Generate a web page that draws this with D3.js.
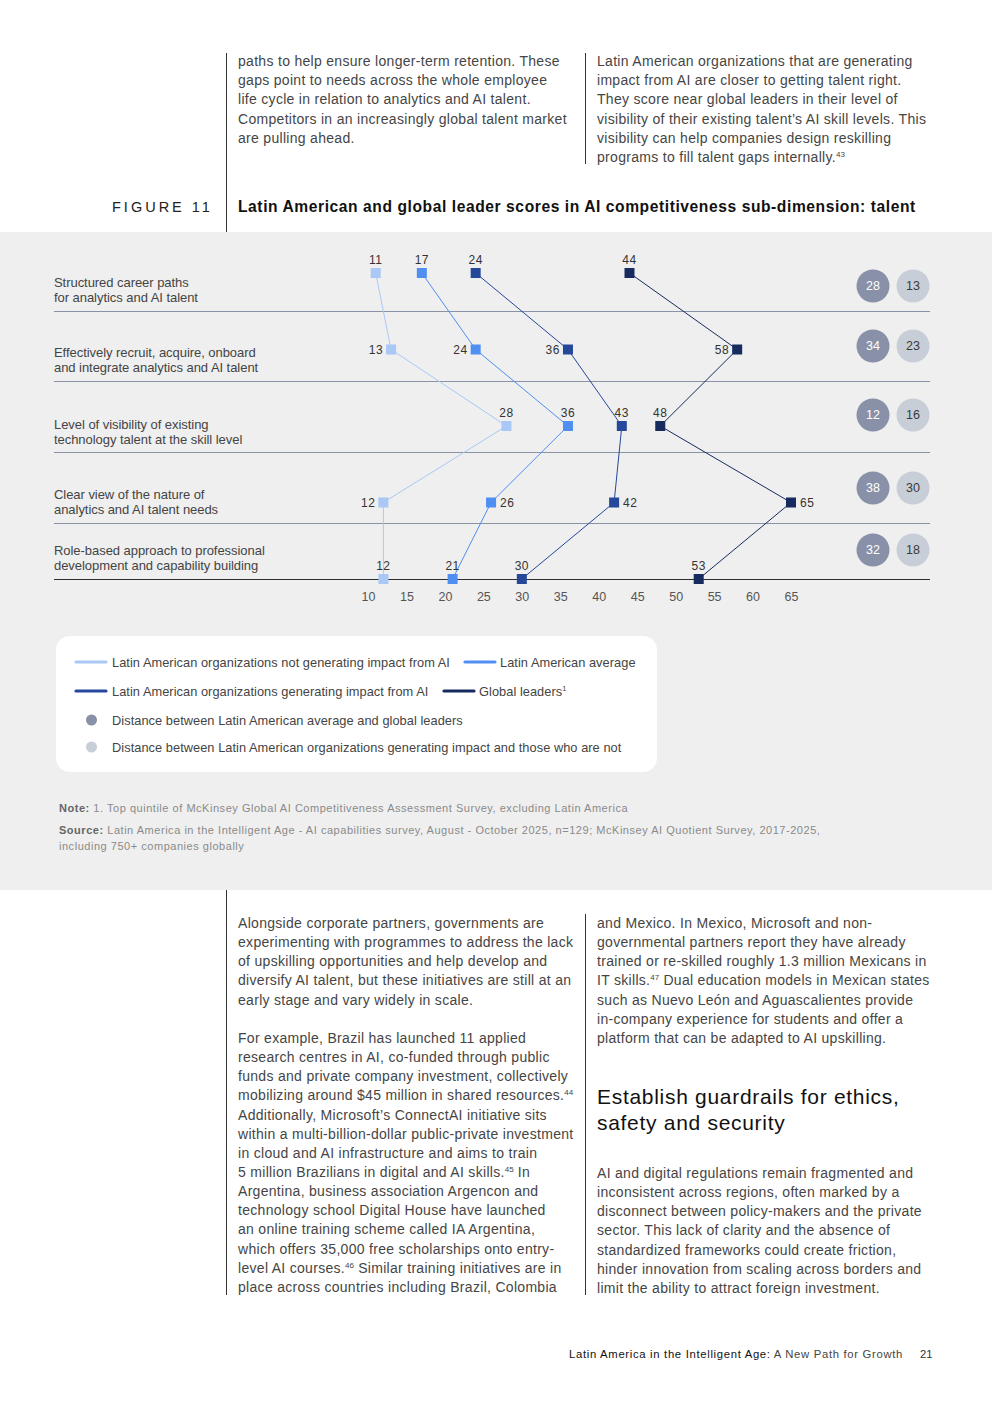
<!DOCTYPE html>
<html>
<head>
<meta charset="utf-8">
<script src="https://cdn.jsdelivr.net/npm/d3@7"></script>
<style>
  html, body { margin: 0; padding: 0; background: #fff; }
  svg { display: block; font-family: "Liberation Sans", Arial, Helvetica, sans-serif; }
</style>
</head>
<body>
<div id="chart"></div>
<script>
// ---------------- DATA ----------------
const categories = [
  ["Structured career paths", "for analytics and AI talent"],
  ["Effectively recruit, acquire, onboard", "and integrate analytics and AI talent"],
  ["Level of visibility of existing", "technology talent at the skill level"],
  ["Clear view of the nature of", "analytics and AI talent needs"],
  ["Role-based approach to professional", "development and capability building"]
];
const notGenerating = [11, 13, 28, 12, 12];
const latamAverage  = [17, 24, 36, 26, 21];
const generating    = [24, 36, 43, 42, 30];
const globalLeaders = [44, 58, 48, 65, 53];
const gapAvgGlobal  = [28, 34, 12, 38, 32];
const gapGenNot     = [13, 23, 16, 30, 18];
const xTicks = [10, 15, 20, 25, 30, 35, 40, 45, 50, 55, 60, 65];

const seriesNames = [
  "Latin American organizations not generating impact from AI",
  "Latin American average",
  "Latin American organizations generating impact from AI",
  "Global leaders"
];
const gapNames = [
  "Distance between Latin American average and global leaders",
  "Distance between Latin American organizations generating impact and those who are not"
];

// ---------------- STYLE / LAYOUT ----------------
const seriesColors = ["#a9c8f6", "#4f8ff2", "#25489b", "#172b5f"];
const gapColors = ["#8891a7", "#c7ced7"];
const gapTextColors = ["#ffffff", "#3a3a3a"];
const labelPlacement = [
  ["above", "above", "above", "above"],
  ["left", "left", "left", "left"],
  ["above", "above", "above", "above"],
  ["left", "right", "right", "right"],
  ["above", "above", "above", "above"]
];
const rowLabelY = [289.5, 359.5, 431.5, 501.5, 557.5];
const bubbleY   = [286, 346, 415, 488, 550];
const separatorY = [311, 381, 452, 523];

const W = 992, H = 1403;
const svg = d3.select("#chart").append("svg").attr("width", W).attr("height", H);

// gray band
svg.append("rect").attr("x", 0).attr("y", 232).attr("width", W).attr("height", 658).attr("fill", "#efefef");

const bodyColor = "#454545";
function textBlock(x, lines, y0, lh, opts = {}) {
  lines.forEach((ln, i) => {
    if (ln === null) return;
    const t = svg.append("text").attr("x", x).attr("y", y0 + i * lh)
      .attr("font-size", opts.size || 14).attr("letter-spacing", opts.ls != null ? opts.ls : 0.3)
      .attr("fill", opts.color || bodyColor);
    let pending = 0;
    ln.split(/(\^\d+)/).forEach(part => {
      if (part.startsWith("^")) {
        t.append("tspan").attr("font-size", 8).attr("dy", -5).attr("letter-spacing", 0).text(part.slice(1));
        pending = 5;
      } else if (part.length) {
        const ts = t.append("tspan").text(part);
        if (pending) { ts.attr("dy", pending); pending = 0; }
      }
    });
  });
}

// ---------------- top body text ----------------
svg.append("line").attr("x1", 226.5).attr("x2", 226.5).attr("y1", 53).attr("y2", 232).attr("stroke", "#333");
svg.append("line").attr("x1", 585.5).attr("x2", 585.5).attr("y1", 53).attr("y2", 164).attr("stroke", "#333");
textBlock(238, [
  "paths to help ensure longer-term retention. These",
  "gaps point to needs across the whole employee",
  "life cycle in relation to analytics and AI talent.",
  "Competitors in an increasingly global talent market",
  "are pulling ahead."
], 66, 19.2);
textBlock(597, [
  "Latin American organizations that are generating",
  "impact from AI are closer to getting talent right.",
  "They score near global leaders in their level of",
  "visibility of their existing talent’s AI skill levels. This",
  "visibility can help companies design reskilling",
  "programs to fill talent gaps internally.^43"
], 66, 19.2);

// figure header
svg.append("text").attr("x", 112).attr("y", 212).attr("font-size", 14.5).attr("letter-spacing", 3)
  .attr("fill", "#222").text("FIGURE 11");
svg.append("text").attr("x", 238).attr("y", 212).attr("font-size", 15.6).attr("font-weight", "bold")
  .attr("letter-spacing", 0.58)
  .attr("fill", "#111").text("Latin American and global leader scores in AI competitiveness sub-dimension: talent");

// ---------------- chart ----------------
const x = d3.scaleLinear().domain([10, 65]).range([368, 791]);
const y = d3.scalePoint().domain(d3.range(categories.length)).range([273, 579]);

const g = svg.append("g");

// separators
g.selectAll("line.sep").data(separatorY).join("line")
  .attr("x1", 54).attr("x2", 930).attr("y1", d => d + 0.5).attr("y2", d => d + 0.5)
  .attr("stroke", "#8a93a5").attr("stroke-width", 1);
// axis baseline
g.append("line").attr("x1", 54).attr("x2", 930).attr("y1", 579.5).attr("y2", 579.5)
  .attr("stroke", "#2d2d2d").attr("stroke-width", 1);

// row labels
categories.forEach((lines, i) => {
  const t = g.append("text").attr("x", 54).attr("font-size", 13).attr("fill", "#444")
    .attr("letter-spacing", -0.05);
  lines.forEach((ln, j) => {
    t.append("tspan").attr("x", 54).attr("y", rowLabelY[i] - 7.5 + j * 15 + 4.5).text(ln);
  });
});

// axis ticks
const axis = d3.axisBottom(x).tickValues(xTicks).tickSize(0).tickPadding(0);
const ax = g.append("g").attr("transform", "translate(0,592)").call(axis);
ax.select(".domain").remove();
ax.selectAll("text").attr("font-size", 12.5).attr("fill", "#555")
  .attr("font-family", "Liberation Sans, Arial, sans-serif").attr("dy", "0.32em").attr("y", 5);

// series
const allSeries = [notGenerating, latamAverage, generating, globalLeaders];
const line = d3.line().x(d => x(d.v)).y(d => y(d.r));
allSeries.forEach((vals, s) => {
  const pts = vals.map((v, r) => ({ v, r }));
  g.append("path").attr("d", line(pts)).attr("fill", "none")
    .attr("stroke", seriesColors[s]).attr("stroke-width", 1);
});
allSeries.forEach((vals, s) => {
  const pts = vals.map((v, r) => ({ v, r }));
  g.selectAll(null).data(pts).join("rect")
    .attr("x", d => x(d.v) - 5).attr("y", d => y(d.r) - 5)
    .attr("width", 10).attr("height", 10).attr("fill", seriesColors[s]);
  g.selectAll(null).data(pts).join("text")
    .attr("font-size", 12).attr("fill", "#333")
    .each(function (d) {
      const p = labelPlacement[d.r][s];
      const sel = d3.select(this);
      if (p === "above") {
        sel.attr("x", x(d.v)).attr("y", y(d.r) - 9).attr("text-anchor", "middle");
      } else if (p === "left") {
        sel.attr("x", x(d.v) - 8).attr("y", y(d.r) + 4.3).attr("text-anchor", "end");
      } else {
        sel.attr("x", x(d.v) + 9).attr("y", y(d.r) + 4.3).attr("text-anchor", "start");
      }
    })
    .attr("letter-spacing", 0.5)
    .text(d => d.v);
});

// bubbles
const bubbleX = d3.scalePoint().domain([0, 1]).range([873, 913]);
[gapAvgGlobal, gapGenNot].forEach((vals, k) => {
  g.selectAll(null).data(vals).join("circle")
    .attr("cx", bubbleX(k)).attr("cy", (d, i) => bubbleY[i]).attr("r", 16.5)
    .attr("fill", gapColors[k]);
  g.selectAll(null).data(vals).join("text")
    .attr("x", bubbleX(k)).attr("y", (d, i) => bubbleY[i] + 4.3)
    .attr("text-anchor", "middle").attr("font-size", 12.5).attr("fill", gapTextColors[k])
    .text(d => d);
});

// ---------------- legend ----------------
const lg = svg.append("g");
lg.append("rect").attr("x", 56).attr("y", 636).attr("width", 601).attr("height", 136)
  .attr("rx", 14).attr("fill", "#ffffff");
const legendItems = [
  { s: 0, x0: 76, y: 662, tx: 112 },
  { s: 1, x0: 465, y: 662, tx: 500 },
  { s: 2, x0: 76, y: 691, tx: 112 },
  { s: 3, x0: 444, y: 691, tx: 479 }
];
legendItems.forEach(it => {
  lg.append("line").attr("x1", it.x0).attr("x2", it.x0 + 30).attr("y1", it.y).attr("y2", it.y)
    .attr("stroke", seriesColors[it.s]).attr("stroke-width", 3.2).attr("stroke-linecap", "round");
  const t = lg.append("text").attr("x", it.tx).attr("y", it.y + 4.5).attr("font-size", 12.8)
    .attr("fill", "#444").attr("letter-spacing", 0.05).text(seriesNames[it.s]);
  if (it.s === 3) t.append("tspan").attr("font-size", 7.5).attr("dy", -5).text("1");
});
gapNames.forEach((nm, k) => {
  const yy = 720 + k * 27;
  lg.append("circle").attr("cx", 91.5).attr("cy", yy).attr("r", 5.5).attr("fill", gapColors[k]);
  lg.append("text").attr("x", 112).attr("y", yy + 4.5).attr("font-size", 12.8)
    .attr("fill", "#444").attr("letter-spacing", 0.05).text(nm);
});

// ---------------- notes ----------------
const noteLS = 0.53;
const n1 = svg.append("text").attr("x", 59).attr("y", 811.5).attr("font-size", 11).attr("fill", "#8a8a8a").attr("letter-spacing", noteLS);
n1.append("tspan").attr("fill", "#666").attr("font-weight", "bold").text("Note:");
n1.append("tspan").text(" 1. Top quintile of McKinsey Global AI Competitiveness Assessment Survey, excluding Latin America");
const n2 = svg.append("text").attr("x", 59).attr("y", 833.5).attr("font-size", 11).attr("fill", "#8a8a8a").attr("letter-spacing", noteLS);
n2.append("tspan").attr("fill", "#666").attr("font-weight", "bold").text("Source:");
n2.append("tspan").text(" Latin America in the Intelligent Age - AI capabilities survey, August - October 2025, n=129; McKinsey AI Quotient Survey, 2017-2025,");
svg.append("text").attr("x", 59).attr("y", 849.5).attr("font-size", 11).attr("fill", "#8a8a8a").attr("letter-spacing", noteLS)
  .text("including 750+ companies globally");

// ---------------- bottom body text ----------------
svg.append("line").attr("x1", 226.5).attr("x2", 226.5).attr("y1", 890).attr("y2", 1295).attr("stroke", "#333");
svg.append("line").attr("x1", 585.5).attr("x2", 585.5).attr("y1", 914).attr("y2", 1295).attr("stroke", "#333");
textBlock(238, [
  "Alongside corporate partners, governments are",
  "experimenting with programmes to address the lack",
  "of upskilling opportunities and help develop and",
  "diversify AI talent, but these initiatives are still at an",
  "early stage and vary widely in scale.",
  null,
  "For example, Brazil has launched 11 applied",
  "research centres in AI, co-funded through public",
  "funds and private company investment, collectively",
  "mobilizing around $45 million in shared resources.^44",
  "Additionally, Microsoft’s ConnectAI initiative sits",
  "within a multi-billion-dollar public-private investment",
  "in cloud and AI infrastructure and aims to train",
  "5 million Brazilians in digital and AI skills.^45 In",
  "Argentina, business association Argencon and",
  "technology school Digital House have launched",
  "an online training scheme called IA Argentina,",
  "which offers 35,000 free scholarships onto entry-",
  "level AI courses.^46 Similar training initiatives are in",
  "place across countries including Brazil, Colombia"
], 928, 19.15);
textBlock(597, [
  "and Mexico. In Mexico, Microsoft and non-",
  "governmental partners report they have already",
  "trained or re-skilled roughly 1.3 million Mexicans in",
  "IT skills.^47 Dual education models in Mexican states",
  "such as Nuevo León and Aguascalientes provide",
  "in-company experience for students and offer a",
  "platform that can be adapted to AI upskilling."
], 928, 19.15);
svg.append("text").attr("x", 597).attr("y", 1104).attr("font-size", 21).attr("letter-spacing", 0.7).attr("fill", "#111")
  .text("Establish guardrails for ethics,");
svg.append("text").attr("x", 597).attr("y", 1130).attr("font-size", 21).attr("letter-spacing", 0.7).attr("fill", "#111")
  .text("safety and security");
textBlock(597, [
  "AI and digital regulations remain fragmented and",
  "inconsistent across regions, often marked by a",
  "disconnect between policy-makers and the private",
  "sector. This lack of clarity and the absence of",
  "standardized frameworks could create friction,",
  "hinder innovation from scaling across borders and",
  "limit the ability to attract foreign investment."
], 1178, 19.15);

// footer
const f = svg.append("text").attr("x", 569).attr("y", 1358).attr("font-size", 11.3).attr("letter-spacing", 0.68).attr("fill", "#333");
f.append("tspan").attr("fill", "#111").attr("font-weight", "500").text("Latin America in the Intelligent Age:");
f.append("tspan").attr("fill", "#444").text(" A New Path for Growth");
svg.append("text").attr("x", 920).attr("y", 1358).attr("font-size", 11.3).attr("fill", "#333").text("21");
</script>
</body>
</html>
